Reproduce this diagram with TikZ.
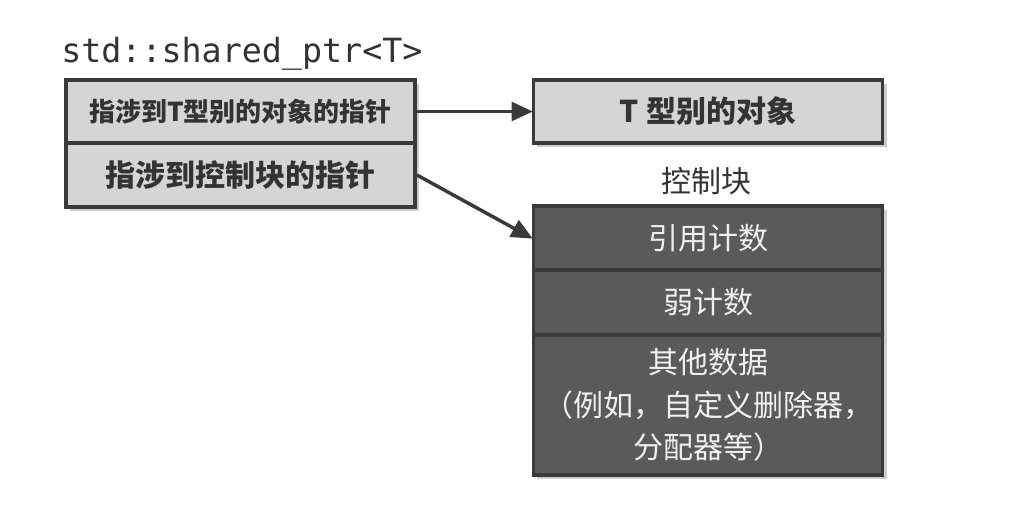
\documentclass[tikz,border=0pt]{standalone}
\usepackage{fontspec}
\newfontfamily\cjk{Noto Sans CJK SC}
\newfontfamily\mono{DejaVu Sans Mono}
\usetikzlibrary{shadows,arrows.meta}
\definecolor{boxline}{HTML}{3A3A3A}
\definecolor{lightfill}{HTML}{D5D5D5}
\definecolor{darkfill}{HTML}{5A5A5A}
\definecolor{darktext}{HTML}{333333}
\definecolor{lighttext}{HTML}{F0F0F0}
\begin{document}
\begin{tikzpicture}[x=0.75pt,y=-0.75pt,
  cell/.style={draw=boxline, line width=2.6pt, minimum width=262pt, inner sep=0pt, align=center,
    drop shadow={opacity=0.4, shadow xshift=3pt, shadow yshift=-3pt}},
  lightcell/.style={cell, fill=lightfill, text=darktext, font=\cjk\bfseries},
  darkcell/.style={cell, fill=darkfill, text=lighttext, font=\cjk\fontsize{22.5}{32}\selectfont},
  conn/.style={draw=boxline, line width=2.6pt, -{Triangle[length=16pt,width=14pt]}, shorten >=-1pt}
]
\useasboundingbox (0,0) rectangle (1026,521);
\fill[white] (0,0) rectangle (1026,521);
% title
\node[anchor=base west, inner sep=0pt, text=darktext, font=\mono\fontsize{25}{28}\selectfont] (title) at (61,62) {std::shared\_ptr<T>};
% shared_ptr box
\node[lightcell, minimum height=47.5pt, font=\cjk\bfseries\fontsize{19.5}{22}\selectfont] (p1) at (240.5,111.5) {指涉到T型别的对象的指针};
\node[lightcell, minimum height=48pt, font=\cjk\bfseries\fontsize{22.5}{26}\selectfont] (p2) at (240.5,175) {指涉到控制块的指针};
% object
\node[lightcell, minimum height=47.5pt, font=\cjk\bfseries\fontsize{22.5}{26}\selectfont] (obj) at (708,111.5) {T 型别的对象};
% control block label
\node[text=darktext, font=\cjk\fontsize{22.5}{26}\selectfont, inner sep=0pt] (cblabel) at (706,181) {控制块};
% control block
\node[darkcell, minimum height=48pt] (rc) at (708,238) {引用计数};
\node[darkcell, minimum height=48.75pt] (wc) at (708,302.5) {弱计数};
\node[darkcell, minimum height=105pt] (od) at (708,405) {其他数据\\（例如，自定义删除器，\\分配器等）};
% connectors
\draw[conn] (p1.east) -- (obj.west);
\draw[conn] (p2.east) -- (rc.west);
\end{tikzpicture}
\end{document}
